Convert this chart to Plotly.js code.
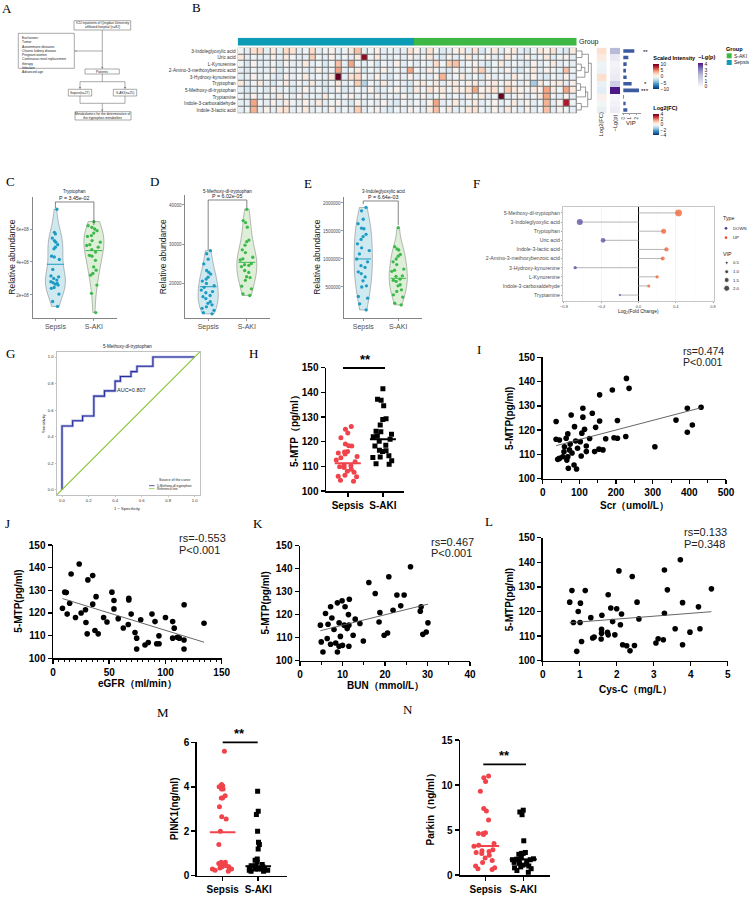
<!DOCTYPE html>
<html>
<head>
<meta charset="utf-8">
<script src="https://cdn.plot.ly/plotly-3.0.1.min.js"></script>
<style>
html,body{margin:0;padding:0;background:#ffffff;}
#chart{width:753px;height:898px;}
</style>
</head>
<body>
<div id="chart"></div>
<script>
// ================= DATA =================
// ---- Panel B: heatmap ----
const heatRows = ['3-Indoleglyoxylic acid','Uric acid','L-Kynurenine','2-Amino-3-methoxybenzoic acid','3-Hydroxy-kynurenine','Tryptophan','5-Methoxy-dl-tryptophan','Tryptamine','Indole-3-carboxaldehyde','Indole-3-lactic acid'];
const nSepsis = 27, nSAKI = 25;
const heatSepsis = [
 [-0.5,-1,1.5,2,-1,1,-1,2,1.5,-1,-0.5,2,-1,-0.5,0.5,-1,-0.5,1,3,-1,-0.5,0.5,-1,-0.5,-1,-1,1.5],
 [1,-1,-0.5,-1,-1,0.5,-1,1,-0.5,-1,-1,2.5,-0.5,-1,0.5,-1,-0.5,-1,1,9,-0.5,1,-1,-1,-0.5,-1,0.5],
 [-0.5,-1.5,0.5,-1,-1,-0.5,-1.5,0.5,-1,-1,1,-1,-0.5,-1.5,-0.5,3,-1,4,-0.5,-1,-0.5,-1.5,-0.5,-1,0.5,-1,-0.5],
 [-1,-1.5,-0.5,-1,-1,0.5,-1.5,-0.5,-1,-0.5,-1,-1,0.5,-1,-0.5,4,-1,-0.5,1,-1.5,-0.5,-1,0.5,-1,-0.5,-1,4],
 [-1,-1,0.5,-1,-0.5,-1,-1.5,0.5,-1,-0.5,1,-1,-0.5,-1,1,10,-1,1.5,2,-0.5,-1,0.5,-1,-1.5,-0.5,-1,0.5],
 [1,-1,-0.5,1,-1,-1.5,-0.5,1,-1,-0.5,-1,1,-1,-1.5,-0.5,1,-1,-0.5,2.5,-3,-0.5,-1,1,-1,-0.5,-1,-1.5],
 [-1,-1.5,-1,-0.5,-1.5,0.5,-1,-0.5,-1.5,-1,0.5,-1,-0.5,-1.5,-1,0.5,-1.5,-1,-0.5,-1,0.5,-1.5,-1,-0.5,0.5,-1,-1.5],
 [-0.5,-1,0.5,-1,-0.5,-1,1,-0.5,-1,0.5,-1,-0.5,-1,1,-0.5,-1,-0.5,0.5,-1,-0.5,-1,0.5,-1,-0.5,-1,0.5,-1],
 [-1,-1,4,-0.5,-1,0.5,-1,1,-0.5,-1,0.5,-1,1,-1,-0.5,0.5,-1,-1.5,0.5,-1,-0.5,-1,0.5,-1,-1.5,-0.5,-1],
 [-1,-0.5,3.5,-1,0.5,-1,1,1.5,-1,-0.5,1,-1,-0.5,-1,0.5,-1,-0.5,-1,2.5,-1,-0.5,0.5,-1,-1.5,-0.5,-1,0.5]
];
const heatSAKI = [
 [0.5,-1,1.5,-0.5,-1.5,-1,0.5,1,-1,1.5,-1.5,-0.5,1,-1,0.5,1,-1,-1.5,-0.5,1,0.5,1.5,-1,-1.5,1],
 [-1,-0.5,1,-1,-1.5,0.5,-1,-0.5,1,-1,-0.5,0.5,-1,-1,1,-0.5,-1,0.5,-1,-0.5,1,-1,-0.5,0.5,-1],
 [-1,-0.5,-1,2,-0.5,2.5,3,-1,-0.5,0.5,-1,-1.5,-0.5,1,-1,-0.5,-1,-1.5,0.5,-1,-0.5,1,-1,-0.5,-1],
 [-0.5,-1,1,-0.5,-1,-1.5,0.5,-1,-0.5,1,2.5,-1,-0.5,-1,0.5,-1,-1.5,-0.5,1,-1,0.5,-0.5,-1,3,-0.5],
 [-1,-0.5,-1,0.5,3.5,-1,-0.5,1,-1,-0.5,-1.5,0.5,-1,-0.5,-1,1,-0.5,-1,0.5,-1,-1.5,-0.5,-1,0.5,-1],
 [0.5,1,-0.5,1,-1,0.5,1,-0.5,0.5,1,-1,0.5,1,-0.5,1,0.5,-1,0.5,-3.5,1,-0.5,0.5,1,-1,0.5],
 [1,-0.5,1.5,0.5,1,-0.5,1,0.5,1.5,4,0.5,1,1.5,-0.5,2.5,1,0.5,-0.5,1,0.5,4,1,-0.5,4,1],
 [-0.5,0.5,-1,-0.5,0.5,-1,-0.5,-1,0.5,-0.5,1,-1,-0.5,10,-1,-0.5,0.5,-1,-0.5,1,4,-0.5,-1,0.5,-1],
 [-0.5,-1,0.5,4,-1,-0.5,1,-1,-0.5,1,-1,-0.5,0.5,-1,-0.5,1,-1,0.5,-1,-0.5,3.5,-1,0.5,8,-0.5],
 [-0.5,-1,1,3,-0.5,1,-1,-0.5,1,1.5,-0.5,-1,0.5,-1,1,-0.5,-1,0.5,-1,-0.5,3,-1,0.5,-0.5,-1]
];
const heatVip = [1.65,0.75,0.5,0.4,0.5,1.25,2.35,0.1,0.35,0.6];
const heatLgP = [2.18,0.6,0.3,0.4,0.5,1.46,4.22,0.2,0.3,0.45];
const heatStars = ['**','','','','','*','***','','',''];
// dendrogram merges: [childA, childB, height]; leaves 0-9, clusters 10+
const dendroMerges = [[0,1,0.35],[2,3,0.3],[11,4,0.55],[10,12,0.8],[5,6,0.25],[14,7,0.6],[8,9,0.3],[15,16,0.75],[13,17,1.0]];

// ---- Panel F: lollipop ----
const metabolitesF = ['5-Methoxy-dl-tryptophan','3-Indoleglyoxylic acid','Tryptophan','Uric acid','Indole-3-lactic acid','2-Amino-3-methoxybenzoic acid','3-Hydroxy-kynurenine','L-Kynurenine','Indole-3-carboxaldehyde','Tryptamine'];
const log2FC = [0.43,-0.63,0.27,-0.38,0.30,0.26,-0.68,0.20,0.11,-0.20];
const vipF = [2.35,2.0,1.5,1.35,1.15,1.0,0.65,0.65,0.5,0.1];
const vipLegend = [0.5,1.0,1.5,2.0];

// ---- Panels C, D, E: violins ----
const cSepsis = [7.2e8,5.8e8,5.7e8,5.45e8,5.3e8,5.2e8,5.05e8,4.9e8,4.8e8,4.35e8,4.3e8,4.15e8,3.55e8,3.15e8,3.1e8,3.0e8,2.9e8,2.8e8,2.75e8,2.7e8,2.65e8,2.6e8,2.45e8,2.4e8,2.05e8,1.6e8,1.3e8];
const cSAKI = [6.45e8,6.2e8,6.1e8,6.0e8,5.9e8,5.75e8,5.6e8,5.55e8,5.3e8,5.2e8,5.05e8,4.9e8,4.75e8,4.35e8,4.1e8,3.7e8,3.3e8,3.2e8,2.1e8,0.93e8,5.0e8,4.6e8,4.4e8,3.5e8,2.6e8];
const cCenter = [3.86e8,4.69e8];
const dSepsis = [28300,27500,26100,24900,23200,22700,22300,21500,21000,20500,19900,18900,18200,17500,16500,16000,15200,14800,14400,13900,13500,13000,12400,12100,16800,17800,19300];
const dSAKI = [38900,36000,35500,34300,31000,30600,29700,28500,26600,25900,25000,24700,24200,23200,22700,21600,21400,20700,19200,18500,17200,16800,26200,27800,24500];
const dCenter = [19050,25300];
const eSepsis = [1.92e6,1.86e6,1.71e6,1.63e6,1.55e6,1.54e6,1.44e6,1.40e6,1.35e6,1.27e6,1.15e6,1.09e6,1.0e6,0.88e6,0.85e6,0.77e6,0.74e6,0.68e6,0.61e6,0.52e6,0.50e6,0.33e6,0.30e6,0.09e6,0.95e6,1.2e6,0.2e6];
const eSAKI = [1.56e6,1.22e6,1.18e6,1.16e6,1.08e6,1.05e6,1.0e6,0.95e6,0.82e6,0.80e6,0.78e6,0.70e6,0.69e6,0.64e6,0.62e6,0.54e6,0.52e6,0.42e6,0.36e6,0.32e6,0.21e6,0.18e6,0.6e6,0.9e6,0.45e6];
const eCenter = [1.0e6,0.655e6];

// ---- Panel G: ROC ----
const rocFpr = [0,0,0.08,0.155,0.24,0.32,0.40,0.44,0.52,0.565,0.685,1.0];
const rocTpr = [0,0.48,0.52,0.555,0.705,0.745,0.818,0.853,0.89,0.93,1.0,1.0];

// ---- Panel H ----
const hSepsis = [126.2,125.0,123.5,121.6,119.1,118.4,118.2,116.0,115.8,115.4,115.0,114.0,113.5,112.6,111.9,110.2,109.8,109.5,108.0,107.6,106.4,106.0,105.8,104.4,104.0,110.5,108.8];
const hSAKI = [141.5,137.2,136.8,134.6,129.3,129.0,126.8,124.2,124.0,123.0,122.3,122.0,121.0,120.2,118.6,118.2,116.5,116.0,116.3,114.3,113.8,113.6,112.3,111.0,110.8];
const hCenter = [111.3,121.0];

// ---- Panel I: Scr vs 5-MTP ----
const iScr = [36.6,36.6,45.7,77.7,86.8,64,68.5,109.6,109.6,135.3,155.3,144.4,114.2,106.8,102.5,118.9,155.3,190,203.8,194.5,171.8,228.4,235.6,226.6,203.8,306,363.6,394.5,394.5,408.2,432,41,54.8,68.5,73,59.4,105,119,141.6,153.4,164.4,45.7,65.8,69.9,85.5,92.3,80,90,95,58,75,128];
const iMTP = [123.5,116.2,115.9,126.2,121.4,116.6,118.4,129.0,125.3,126.9,123.7,121.1,120.3,118.7,115.2,113.4,134.5,136.5,116.6,116.8,116.4,141.3,137.2,117.3,123.9,113.1,124.1,129.0,119.1,122.1,129.4,107.9,109.0,109.0,111.8,113.1,109.3,111.1,111.1,112.1,111.8,108.3,107.6,104.2,105.6,103.9,110.5,115.5,112.5,111.0,114.2,116.5];
// ---- Panel J: eGFR vs 5-MTP ----
const jEGFR = [23.3,16.1,10.5,11.8,14.8,8.4,28.9,31,35.3,35.3,38.3,52.4,54.2,54.2,67.4,67.4,116.6,69.5,12.6,29.3,30.4,37.3,40.2,62.5,66.9,72.9,74.4,74.4,81.8,84.7,90.7,92.2,94.3,94.2,106.4,107.8,106.4,110.5,112.3,116.5,116.5,134.3,78,45,20,25,58,48,88,100];
const jMTP = [141.6,137.2,129.2,129.0,124.3,122.1,121.4,134.6,136.5,123.9,127.2,129.2,125.5,121.8,126.5,125.7,123.6,119.5,119.5,115.8,110.8,112.3,110.8,113.4,114.9,111.4,108.9,104.1,105.9,107.0,116.2,106.4,106.4,109.9,116.2,113.3,108.9,109.3,108.9,108.1,104.1,115.5,117,118,118,120,117.5,116,119.5,118];
// ---- Panel K: BUN vs 5-MTP ----
const kBUN = [26,16.2,20.9,17.7,22.8,24.5,23.7,21.9,18.8,28.5,28.3,7.2,8.8,9.9,11.6,10.6,11.4,4.8,6.6,8.0,9.2,10.4,11.5,11.1,14.1,5.0,6.4,7.2,8.4,9.2,5.4,8.8,10,11.5,14.9,19.8,20.6,18.6,28.9,29.7,30.1,7.5,6,13,9.5,12.5];
const kMTP = [140.8,134.0,136.5,129.2,128.5,128.5,123.8,121.9,120.9,123.4,121.5,123.4,125.1,126.0,126.7,123.4,120.0,115.4,115.8,113.5,116.4,115.4,115.4,113.9,116.1,108.1,109.6,107.1,107.6,106.2,103.7,103.7,106.6,106.2,108.5,111.0,112.0,116.8,111.4,112.4,116.4,118.5,120.5,118,110.5,111];
// ---- Panel L: Cys-C vs 5-MTP ----
const lCysC = [3.72,3.29,3.37,2.06,2.42,4.56,0.79,1.15,0.73,1.02,0.96,1.77,1.84,2.0,2.55,3.78,4.21,3.29,2.13,0.83,1.01,1.59,1.59,1.75,1.77,1.95,2.1,1.89,1.05,1.35,1.39,1.58,2.16,2.27,2.48,2.36,0.92,3.06,3.12,3.26,3.58,3.98,3.78,4.25,1.3,2.6,1.6];
const lMTP = [141.0,136.9,128.8,136.5,134.2,129.2,128.5,128.5,123.8,123.4,120.0,126.8,121.4,121.1,123.8,123.6,121.9,119.3,119.0,115.5,115.5,112.8,111.2,111.5,110.5,110.5,114.6,115.9,107.8,109.2,109.6,108.8,106.5,106.1,106.2,104.0,103.8,107.2,108.9,108.5,113.0,111.6,106.5,113.0,117.5,117,118.5];
const corrText = {I:['rs=0.474','P<0.001'], J:['rs=-0.553','P<0.001'], K:['rs=0.467','P<0.001'], L:['rs=0.133','P=0.348']};

// ---- Panels M, N ----
const mSepsis = [5.6,4.1,4.05,4.0,3.9,3.9,3.6,3.5,3.5,3.1,2.65,2.55,2.0,1.4,0.6,0.55,0.6,0.45,0.4,0.4,0.35,0.3,0.3,0.2,0.25,0.45,0.55];
const mSAKI = [3.8,2.9,2.75,2.0,1.5,1.4,1.2,0.75,0.7,0.6,0.5,0.45,0.45,0.4,0.4,0.35,0.35,0.3,0.3,0.3,0.25,0.25,0.2,0.2,0.3,0.35];
const mCenter = [1.95,0.42];
const nSepsisP = [11.0,10.8,10.4,9.3,7.4,7.1,6.1,4.7,4.6,4.5,4.6,3.5,3.3,3.2,2.8,2.7,2.6,2.5,2.4,2.2,1.9,1.6,1.4,1.0,0.8,0.7,0.6];
const nSAKIP = [7.2,7.0,6.7,3.8,2.5,2.4,2.3,2.4,1.9,1.8,1.75,1.7,1.7,1.6,1.5,1.4,1.3,1.2,1.1,1.0,0.9,0.8,0.7,0.5,0.3];
const nCenter = [3.22,1.74];

const groupNames = ['Sepsis','S-AKI'];
const exclusionLines = ['Exclusions:','Tumor','Autoimmune diseases','Chronic kidney disease','Pregnant women','Continuous renal replacement','therapy','Infection','Advanced age'];

// ================= BUILD =================
const W = 753, H = 898;
const FONT = 'Liberation Sans, Arial, Helvetica, sans-serif';
const SERIF = 'Liberation Serif, Times New Roman, serif';
const PX = x => x / W, PY = y => 1 - y / H;
const traces = [];
const layout = {
  width: W, height: H,
  margin: {l:0, r:0, t:0, b:0, pad:0, autoexpand:false},
  paper_bgcolor: '#ffffff', plot_bgcolor: 'rgba(0,0,0,0)',
  showlegend: false, font: {family: FONT, color: '#000', size: 8},
  violinmode: 'overlay', boxmode: 'overlay',
  shapes: [], annotations: []
};
function axName(p, n){ return n === 1 ? p + 'axis' : p + 'axis' + n; }
function setX(n, x0, x1, anchor, o){ layout[axName('x', n)] = Object.assign({domain:[PX(x0), PX(x1)], anchor:anchor, automargin:false, showgrid:false, zeroline:false, fixedrange:true}, o || {}); }
function setY(n, y0, y1, anchor, o){ layout[axName('y', n)] = Object.assign({domain:[PY(y1), PY(y0)], anchor:anchor, automargin:false, showgrid:false, zeroline:false, fixedrange:true}, o || {}); }
function txt(x, y, text, o){
  const base = {xref:'paper', yref:'paper', x:PX(x), y:PY(y), text:text, showarrow:false, xanchor:'center', yanchor:'middle', borderpad:0, font:{size:6, family:FONT, color:'#000'}};
  const r = Object.assign(base, o || {});
  if (o && o.font) r.font = Object.assign({family:FONT, color:'#000'}, o.font);
  layout.annotations.push(r);
}
function seg(x0, y0, x1, y1, color, w){ layout.shapes.push({type:'line', xref:'paper', yref:'paper', x0:PX(x0), y0:PY(y0), x1:PX(x1), y1:PY(y1), line:{color:color, width:w}}); }
function rectP(x0, y0, x1, y1, color, w, fill){ layout.shapes.push({type:'rect', xref:'paper', yref:'paper', x0:PX(x0), y0:PY(y1), x1:PX(x1), y1:PY(y0), line:{color:color, width:w}, fillcolor:fill || 'rgba(0,0,0,0)'}); }
function arrow(tx, ty, hx, hy, color){
  const L = Math.hypot(hx - tx, hy - ty), ux = (hx - tx) / L, uy = (hy - ty) / L;
  const len = 2.2, hw = 1.1, bx = hx - ux * len, by = hy - uy * len;
  seg(tx, ty, bx, by, color, 0.6);
  const p = [[hx, hy], [bx - uy * hw, by + ux * hw], [bx + uy * hw, by - ux * hw]];
  layout.shapes.push({type:'path', xref:'paper', yref:'paper', path:'M' + p.map(q => PX(q[0]) + ',' + PY(q[1])).join(' L') + ' Z', fillcolor:color, line:{width:0}});
}
const idx = n => Array.from({length:n}, (_, i) => i);

// ---------- Panel letters ----------
[['A',7.3,8.3],['B',196.7,7.3],['C',10,181.7],['D',154,181.7],['E',308.3,183.3],['F',476,183.3],['G',10,353.3],['H',253.3,353.3],['I',479.3,349.3],['J',7,523],['K',258,523],['L',489,521.7],['M',163.3,712.7],['N',408.3,709.3]]
 .forEach(l => txt(l[1], l[2], l[0], {font:{size:13, family:SERIF}}));

// ---------- Panel A: flowchart ----------
const fc = '#707070', ft = {size:3.3, color:'#222'};
rectP(74,20.7,130.7,30,fc,0.6);
txt(102.3,25.4,'ICU inpatients of Qingdao University<br>affiliated hospital (n=82)',{font:ft});
rectP(18.3,33.3,74.3,68.3,fc,0.6);
txt(20.5,35,exclusionLines.join('<br>'),{xanchor:'left',yanchor:'top',align:'left',font:ft});
arrow(102.3,30,102.3,69,fc);
arrow(102.3,51,74.3,51,fc);
rectP(85,69,119.3,74,fc,0.6); txt(102.2,71.6,'Patients',{font:ft});
seg(102.3,74,102.3,81.7,fc,0.6); seg(80,81.7,125,81.7,fc,0.6);
arrow(80,81.7,80,89.3,fc); arrow(125,81.7,125,89.3,fc);
rectP(68.3,89.3,91.7,96,fc,0.6); txt(80,92.7,'Sepsis(n=27)',{font:ft});
rectP(113.3,89.3,136.7,96,fc,0.6); txt(125,92.7,'S-AKI(n=25)',{font:ft});
seg(80,96,80,103.3,fc,0.6); seg(125,96,125,103.3,fc,0.6); seg(80,103.3,125,103.3,fc,0.6);
arrow(102.3,103.3,102.3,111.7,fc);
rectP(75,111.7,131,120,fc,0.6);
txt(103,115.9,'Metabolomics for the determination of<br>the tryptophan metabolites',{font:ft});

// ---------- Panel B: heatmap ----------
const RdBu = [[0,'#053061'],[0.1,'#2166AC'],[0.2,'#4393C3'],[0.3,'#92C5DE'],[0.4,'#D1E5F0'],[0.5,'#F7F7F7'],[0.6,'#FDDBC7'],[0.7,'#F4A582'],[0.8,'#D6604D'],[0.9,'#B2182B'],[1,'#67001F']];
const Purples = [[0,'#FCFBFD'],[0.25,'#DADAEB'],[0.5,'#BCBDDC'],[0.75,'#807DBA'],[1,'#4A1486']];
const cSep = '#0E9BB6', cAKI = '#3DB845';
const nCols = nSepsis + nSAKI;
const heatZ = heatSepsis.map((r, i) => r.concat(heatSAKI[i]));
const groupCodes = idx(nCols).map(i => i < nSepsis ? 0 : 1);
const rowTop = 47.7, rowBot = 113.3, rowH = (rowBot - rowTop) / heatRows.length;
setX(1, 237.7, 576.7, 'y', {range:[-0.5, nCols-0.5], showticklabels:false, ticks:''});
setY(1, rowTop, rowBot, 'x', {range:[heatRows.length-0.5, -0.5], tickvals:idx(heatRows.length), ticktext:heatRows, ticks:'', ticklabelstandoff:1, tickfont:{size:4.7, color:'#333', family:FONT}});
setY(2, 37.7, 45.7, 'x', {range:[-0.5,0.5], visible:false});
setX(3, 596.7, 606.7, 'y', {range:[-0.5,0.5], visible:false});
setX(4, 610, 620, 'y', {range:[-0.5,0.5], visible:false});
setX(5, 622.3, 640.5, 'y', {range:[-0.15,2.58], showline:true, linewidth:0.5, linecolor:'#333', ticks:'outside', ticklen:1.5, tickwidth:0.5, tickcolor:'#333', tickvals:[0,1,2], tickangle:-90, tickfont:{size:4.5, color:'#333', family:FONT}});
setX(6, 577, 592, 'y', {range:[0,1.05], visible:false});
layout.shapes.push({type:'rect', xref:'x', yref:'y', x0:-0.5, x1:nCols-0.5, y0:-0.5, y1:heatRows.length-0.5, fillcolor:'#707070', line:{width:0.6, color:'#555'}, layer:'below'});
traces.push({type:'heatmap', z:heatZ, xaxis:'x', yaxis:'y', zmin:-10, zmax:10, colorscale:RdBu, xgap:1, ygap:1, hoverinfo:'skip',
  colorbar:{x:PX(653.3), xanchor:'left', y:PY(71.2), yanchor:'middle', len:35.7, lenmode:'pixels', thickness:6, thicknessmode:'pixels', outlinewidth:0, xpad:0, ypad:0, tickvals:[-10,-5,0,5,10], ticks:'', tickfont:{size:5, color:'#222', family:FONT}, title:{text:'Scaled Intensity', side:'top', font:{size:5.5, weight:'bold', family:FONT}}}});
traces.push({type:'heatmap', z:[groupCodes], xaxis:'x', yaxis:'y2', zmin:0, zmax:1, colorscale:[[0,cSep],[0.5,cSep],[0.5,cAKI],[1,cAKI]], showscale:false, hoverinfo:'skip'});
const fcCol = heatRows.map(n => [-log2FC[metabolitesF.indexOf(n)]]);
traces.push({type:'heatmap', z:fcCol, x:[0], y:idx(heatRows.length), xaxis:'x3', yaxis:'y', zmin:-4, zmax:4, colorscale:RdBu, hoverinfo:'skip',
  colorbar:{x:PX(653.3), xanchor:'left', y:PY(119.2), yanchor:'middle', len:31.7, lenmode:'pixels', thickness:6, thicknessmode:'pixels', outlinewidth:0, xpad:0, ypad:0, tickvals:[-4,-2,0,2,4], ticks:'', tickfont:{size:5, color:'#222', family:FONT}, title:{text:'Log2(FC)', side:'top', font:{size:5.5, weight:'bold', family:FONT}}}});
traces.push({type:'heatmap', z:heatLgP.map(v => [v]), x:[0], y:idx(heatRows.length), xaxis:'x4', yaxis:'y', zmin:0, zmax:4.25, colorscale:Purples, hoverinfo:'skip',
  colorbar:{x:PX(698.3), xanchor:'left', y:PY(69.2), yanchor:'middle', len:35, lenmode:'pixels', thickness:4.5, thicknessmode:'pixels', outlinewidth:0, xpad:0, ypad:0, tickvals:[0,1,2,3,4], ticks:'', tickfont:{size:5, color:'#222', family:FONT}, title:{text:'\u2212Lg(p)', side:'top', font:{size:5.5, weight:'bold', family:FONT}}}});
traces.push({type:'bar', orientation:'h', x:heatVip, y:idx(heatRows.length), xaxis:'x5', yaxis:'y', marker:{color:'#3C5AA0', line:{width:0}}, width:0.55, hoverinfo:'skip'});
// dendrogram
(function(){
  const pos = idx(heatRows.length).map(i => ({y:i, h:0}));
  const dx = [], dy = [];
  dendroMerges.forEach(m => {
    const a = pos[m[0]], b = pos[m[1]];
    dx.push(a.h, m[2], m[2], b.h, null); dy.push(a.y, a.y, b.y, b.y, null);
    pos.push({y:(a.y + b.y) / 2, h:m[2]});
  });
  traces.push({type:'scatter', mode:'lines', x:dx, y:dy, xaxis:'x6', yaxis:'y', line:{color:'#555', width:0.6}, hoverinfo:'skip'});
})();
heatStars.forEach((s, i) => { if (s) txt(645, rowTop + (i + 0.45) * rowH + 1, s, {font:{size:6}}); });
txt(578, 42.2, 'Group', {xanchor:'left', font:{size:7, color:'#222'}});
txt(600.5, 124, 'Log2(FC)', {textangle:-90, font:{size:5.8, color:'#222'}});
txt(614.5, 123, '\u2212Lg(p)', {textangle:-90, font:{size:5.8, color:'#222'}});
txt(630.5, 122.5, 'VIP', {font:{size:6, color:'#222'}});
txt(725, 49, 'Group', {xanchor:'left', font:{size:5.5, weight:'bold'}});
rectP(726.7,53.3,731.7,58.3,cAKI,0,cAKI); txt(733.3,55.8,'S-AKI',{xanchor:'left',font:{size:5,color:'#222'}});
rectP(726.7,60,731.7,65,cSep,0,cSep); txt(733.3,62.5,'Sepsis',{xanchor:'left',font:{size:5,color:'#222'}});

// ---------- Panels C, D, E: violins ----------
const vFill = ['#CFE9F1','#DDEFD6'], vPt = ['#1C9BC3','#3DB94B'];
const violinPanels = [
  {n:7, x0:32.3, x1:117, y0:196.7, y1:318, xr:[-0.6,1.6], yr:[0.6e8,7.96e8], tv:[2e8,4e8,6e8], tt:['2e+08','4e+08','6e+08'], data:[cSepsis,cSAKI], center:cCenter, title:'Tryptophan', tx:74, p:'P = 3.45e-02', br:[7.27e8,7.64e8,6.24e8], brTop:202, ylx:11.7},
  {n:8, x0:185, x1:270, y0:195, y1:318, xr:[-0.6,1.6], yr:[11030,42560], tv:[20000,30000,40000], tt:['20000','30000','40000'], data:[dSepsis,dSAKI], center:dCenter, title:'5-Methoxy-dl-tryptophan', tx:227, p:'P = 6.02e-05', br:[28460,41280,39230], brTop:200, ylx:163.3},
  {n:9, x0:344, x1:421.7, y0:197, y1:318, xr:[-0.55,1.67], yr:[-0.054e6,2.107e6], tv:[500000,1000000,1500000,2000000], tt:['500000','1000000','1500000','2000000'], data:[eSepsis,eSAKI], center:eCenter, title:'3-Indoleglyoxylic acid', tx:383, p:'P = 6.64e-03', br:[1.98e6,2.036e6,1.61e6], brTop:201, ylx:316.7}
];
violinPanels.forEach(v => {
  const xa = 'x' + v.n, ya = 'y' + v.n;
  setX(v.n, v.x0, v.x1, ya, {type:'linear', range:v.xr, showline:true, linecolor:'#333', linewidth:0.6, ticks:'outside', ticklen:2, tickwidth:0.5, tickcolor:'#333', tickvals:[0,1], ticktext:groupNames, tickfont:{size:7, color:'#4D4D4D', family:FONT}});
  setY(v.n, v.y0, v.y1, xa, {range:v.yr, showline:true, linecolor:'#333', linewidth:0.6, ticks:'outside', ticklen:2, tickwidth:0.5, tickcolor:'#333', tickvals:v.tv, ticktext:v.tt, tickfont:{size:4.5, color:'#4D4D4D', family:FONT}});
  v.data.forEach((d, g) => {
    traces.push({type:'violin', x0:g, y:d, xaxis:xa, yaxis:ya, width:0.52, spanmode:'hard', points:'all', pointpos:0, jitter:0.75, fillcolor:vFill[g], line:{color:'#8C8C8C', width:0.6}, marker:{color:vPt[g], size:3.3}, box:{visible:false}, meanline:{visible:false}, hoverinfo:'skip', hoveron:'points'});
    traces.push({type:'scatter', mode:'lines', x:[g-0.22, g+0.22], y:[v.center[g], v.center[g]], xaxis:xa, yaxis:ya, line:{color:vPt[g], width:1}, hoverinfo:'skip'});
  });
  traces.push({type:'scatter', mode:'lines', x:[0,0,1,1], y:[v.br[0], v.br[1], v.br[1], v.br[2]], xaxis:xa, yaxis:ya, line:{color:'#333', width:0.6}, hoverinfo:'skip', cliponaxis:false});
  txt(v.tx, v.brTop - 3.8, v.p, {font:{size:5.3, color:'#222'}});
  txt(v.tx, 191.5, v.title, {font:{size:4.5, color:'#222'}});
  txt(v.ylx, 257, 'Relative abundance', {textangle:-90, font:{size:8.5, color:'#222'}});
});

// ---------- Panel F: lollipop ----------
const cDown = '#4B3A98', cUp = '#F2501C';
const sizeOf = v => 2 + 2 * v;
setX(10, 563, 714, 'y10', {range:[-0.81,0.81], showline:true, mirror:true, linecolor:'#A0A0A0', linewidth:0.6, showgrid:true, gridcolor:'#EBEBEB', gridwidth:0.5, minor:{showgrid:true, gridcolor:'#F4F4F4', gridwidth:0.4, dtick:0.2}, tickvals:[-0.8,-0.4,0,0.4,0.8], tickformat:'.1f', ticks:'outside', ticklen:1.5, tickwidth:0.5, tickcolor:'#444', tickfont:{size:4, color:'#4D4D4D', family:FONT}, zeroline:true, zerolinecolor:'#000', zerolinewidth:1.3});
setY(10, 207, 301, 'x10', {range:[metabolitesF.length-0.35, -0.65], tickvals:idx(metabolitesF.length), ticktext:metabolitesF, showline:true, mirror:true, linecolor:'#A0A0A0', linewidth:0.6, ticks:'outside', ticklen:1.5, tickwidth:0.5, tickcolor:'#444', tickfont:{size:5.2, color:'#4D4D4D', family:FONT}});
(function(){
  const sx = [], sy = [];
  log2FC.forEach((v, i) => { sx.push(0, v, null); sy.push(i, i, null); });
  traces.push({type:'scatter', mode:'lines', x:sx, y:sy, xaxis:'x10', yaxis:'y10', line:{color:'#B5B5B5', width:1}, hoverinfo:'skip'});
  [[v => v < 0, cDown], [v => v >= 0, cUp]].forEach(t => {
    const ii = idx(log2FC.length).filter(i => t[0](log2FC[i]));
    traces.push({type:'scatter', mode:'markers', x:ii.map(i => log2FC[i]), y:ii, xaxis:'x10', yaxis:'y10', marker:{color:t[1], size:ii.map(i => sizeOf(vipF[i])), line:{width:0}}, hoverinfo:'skip'});
  });
})();
txt(638.5, 312, 'Log<sub>2</sub>(Fold Change)', {font:{size:4.8, color:'#222'}});
setX(19, 718, 753, 'y19', {range:[718,753], visible:false});
setY(19, 212, 295, 'x19', {range:[295,212], visible:false});
traces.push({type:'scatter', mode:'markers', x:[726,726], y:[228.3,237.7], xaxis:'x19', yaxis:'y19', marker:{color:[cDown,cUp], size:2.7}, hoverinfo:'skip'});
traces.push({type:'scatter', mode:'markers', x:vipLegend.map(() => 726.7), y:[262.7,271.7,280,288.3], xaxis:'x19', yaxis:'y19', marker:{color:'#000', size:vipLegend.map(sizeOf)}, hoverinfo:'skip'});
txt(721.5, 218.3, 'Type', {xanchor:'left', font:{size:5.3, color:'#222'}});
txt(732, 228.3, 'DOWN', {xanchor:'left', font:{size:4.3, color:'#222'}});
txt(732, 237.7, 'UP', {xanchor:'left', font:{size:4.3, color:'#222'}});
txt(721.5, 254, 'VIP', {xanchor:'left', font:{size:5.3, color:'#222'}});
vipLegend.forEach((v, i) => txt(732, [262.7,271.7,280,288.3][i], v.toFixed(1), {xanchor:'left', font:{size:4.3, color:'#222'}}));

// ---------- Panel G: ROC ----------
const rocLim = [-0.04, 1.04];
const rocAxX = {range:rocLim.slice(), showline:true, mirror:true, linecolor:'#A6A6A6', linewidth:0.7, ticks:'outside', ticklen:1.5, tickwidth:0.5, tickcolor:'#888', tickvals:[0,0.2,0.4,0.6,0.8,1], tickformat:'.1f', tickfont:{size:4.2, color:'#333', family:FONT}};
setX(11, 56.7, 200, 'y11', rocAxX);
setY(11, 351.7, 495, 'x11', Object.assign({}, rocAxX, {range:rocLim.slice()}));
// reference (chance) diagonal across the whole plotting box
layout.shapes.push({type:'line', xref:'x11', yref:'y11', x0:rocLim[0], y0:rocLim[0], x1:rocLim[1], y1:rocLim[1], line:{color:'#8CC63F', width:1.1}});
traces.push({type:'scatter', mode:'lines', x:rocFpr, y:rocTpr, xaxis:'x11', yaxis:'y11', line:{color:'#A7ABDE', width:2.6, shape:'hv'}, hoverinfo:'skip'});
traces.push({type:'scatter', mode:'lines', x:rocFpr, y:rocTpr, xaxis:'x11', yaxis:'y11', line:{color:'#27309A', width:1.1, shape:'hv'}, hoverinfo:'skip'});
txt(128, 346.8, '5-Methoxy-dl-tryptophan', {font:{size:4.5, color:'#222'}});
txt(115.5, 390, 'AUC=0.807', {xanchor:'left', font:{size:5.5, color:'#222'}});
txt(43, 423, 'Sensitivity', {textangle:-90, font:{size:4.2, color:'#222'}});
txt(128, 508.5, '1 \u2212 Specificity', {font:{size:4.2, color:'#222'}});
txt(174, 480.3, 'Source of the curve', {font:{size:3.6, color:'#222'}});
seg(149,485.7,154.5,485.7,'#27309A',0.8); seg(149,488.6,154.5,488.6,'#8CC63F',0.8);
txt(155.5, 485.7, '5-Methoxy-dl-tryptophan', {xanchor:'left', font:{size:3.2, color:'#222'}});
txt(155.5, 488.8, 'Reference line', {xanchor:'left', font:{size:3.2, color:'#222'}});

// ---------- GraphPad style panels ----------
const gpFont = {size:10, weight:'bold', color:'#000', family:FONT};
const gp = o => Object.assign({showline:true, linecolor:'#000', linewidth:1.5, ticks:'outside', ticklen:4, tickwidth:1.5, tickcolor:'#000', tickfont:gpFont}, o);
const mnr = d => ({ticks:'outside', ticklen:2.5, tickwidth:1, tickcolor:'#000', dtick:d});
const cRed = '#F0434B';

function dotPanel(n, xd, yd, xr, yr, ytick, sets, centers, lineW){
  const xa = 'x' + n, ya = 'y' + n;
  setX(n, xd[0], xd[1], ya, gp({type:'linear', range:xr, tickvals:[0,1], ticktext:groupNames}));
  setY(n, yd[0], yd[1], xa, gp({range:yr, tick0:yr[0], dtick:ytick}));
  sets.forEach((d, g) => {
    traces.push({type:'box', x0:g, y:d, xaxis:xa, yaxis:ya, boxpoints:'all', jitter:0.95, pointpos:0, width:0.72, fillcolor:'rgba(0,0,0,0)', line:{width:0, color:'rgba(0,0,0,0)'}, whiskerwidth:0, marker:{color:g ? '#000' : cRed, size:5, symbol:g ? 'square' : 'circle'}, hoverinfo:'skip'});
    traces.push({type:'scatter', mode:'lines', x:[g-lineW, g+lineW], y:[centers[g], centers[g]], xaxis:xa, yaxis:ya, line:{color:g ? '#000' : cRed, width:2}, hoverinfo:'skip'});
  });
}
dotPanel(12, [326,404], [367.7,491], [-0.62,1.6], [100,150], 10, [hSepsis,hSAKI], hCenter, 0.37);
dotPanel(17, [196.7,286.7], [742.3,875.7], [-0.73,1.8], [0,6], 2, [mSepsis,mSAKI], mCenter, 0.36);
dotPanel(18, [460,550], [740,875], [-0.68,1.71], [0,15], 5, [nSepsisP,nSAKIP], nCenter, 0.36);
txt(365, 359, '**', {font:{size:13, weight:'bold'}}); seg(343,368,385,368,'#000',2);
txt(239.3, 733.5, '**', {font:{size:13, weight:'bold'}}); seg(222.7,742.3,257.7,742.3,'#000',1.8);
txt(504.3, 755, '**', {font:{size:13, weight:'bold'}}); seg(483.3,764.3,526,764.3,'#000',1.8);
txt(295, 429, '5-MTP\uFF08pg/ml\uFF09', {textangle:-90, font:{size:10, weight:'bold'}});
txt(174.3, 809, 'PINK1(ng/ml)', {textangle:-90, font:{size:10, weight:'bold'}});
txt(430, 807.5, 'Parkin\uFF08ng/ml\uFF09', {textangle:-90, font:{size:10, weight:'bold'}});

function fitLine(xs, ys){
  const n = xs.length, mx = xs.reduce((a,b)=>a+b,0)/n, my = ys.reduce((a,b)=>a+b,0)/n;
  let sxy = 0, sxx = 0;
  xs.forEach((x, i) => { sxy += (x-mx)*(ys[i]-my); sxx += (x-mx)*(x-mx); });
  const b = sxy / sxx, a = my - b * mx;
  const lo = Math.min(...xs), hi = Math.max(...xs);
  return {x:[lo, hi], y:[a + b*lo, a + b*hi]};
}
function corrPanel(n, xd, yd, xo, xs, ys, xTitle, xTitlePos, yTitleX, rs, rsPos, rsFont){
  const xa = 'x' + n, ya = 'y' + n;
  setX(n, xd[0], xd[1], ya, gp(xo));
  setY(n, yd[0], yd[1], xa, gp({range:[100,150], tick0:100, dtick:10}));
  traces.push({type:'scatter', mode:'markers', x:xs, y:ys, xaxis:xa, yaxis:ya, marker:{color:'#000', size:5.6}, hoverinfo:'skip'});
  const f = fitLine(xs, ys);
  traces.push({type:'scatter', mode:'lines', x:f.x, y:f.y, xaxis:xa, yaxis:ya, line:{color:'#555', width:0.9}, hoverinfo:'skip'});
  txt(xTitlePos[0], xTitlePos[1], xTitle, {font:{size:10, weight:'bold'}});
  txt(yTitleX, (yd[0]+yd[1])/2, '5-MTP(pg/ml)', {textangle:-90, font:{size:10, weight:'bold'}});
  txt(rsPos[0], rsPos[1], rs[0], {xanchor:'left', font:rsFont});
  txt(rsPos[0], rsPos[2], rs[1], {xanchor:'left', font:rsFont});
}
const rsReg = {size:10.5, color:'#222'};
const rsNar = {size:11, color:'#222', family:'Liberation Sans Narrow, Liberation Sans, Arial, sans-serif'};
corrPanel(13, [542.7,726], [357.3,478.5], {range:[0,500], dtick:100, minor:mnr(50)}, iScr, iMTP, 'Scr\uFF08umol/L\uFF09', [634,505], 510, corrText.I, [681.7,350.7,361.7], rsReg);
corrPanel(14, [53,221.7], [545,658.3], {range:[0,150], tick0:0, dtick:50, minor:mnr(5)}, jEGFR, jMTP, 'eGFR\uFF08ml/min\uFF09', [137,683], 19, corrText.J, [178,538.3,550], rsNar);
corrPanel(15, [300,470], [545.7,660.5], {range:[0,40], dtick:10, minor:mnr(5)}, kBUN, kMTP, 'BUN\uFF08mmol/L\uFF09', [385,685], 265.5, corrText.K, [430.3,542.3,553], rsNar);
corrPanel(16, [542.7,727.7], [537.7,660.7], {range:[0,5], dtick:1}, lCysC, lMTP, 'Cys-C\uFF08mg/L\uFF09', [635,689], 509, corrText.L, [682.7,532.3,543.7], rsNar);

Plotly.newPlot('chart', traces, layout, {displayModeBar:false, staticPlot:true});
</script>
</body>
</html>
